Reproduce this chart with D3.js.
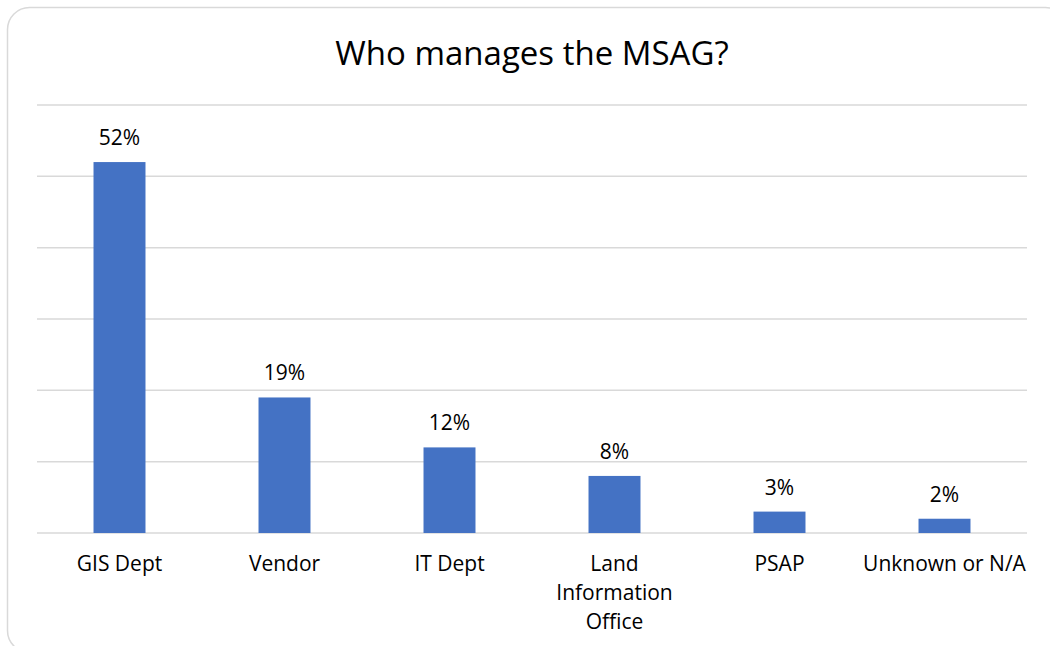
<!DOCTYPE html>
<html>
<head>
<meta charset="utf-8">
<script src="https://cdn.jsdelivr.net/npm/d3@7"></script>
<style>
  body { margin: 0; background: #fff; }
  svg { display: block; font-family: "Open Sans", sans-serif; }
</style>
</head>
<body>
<svg id="chart" width="1050" height="646"></svg>
<script>
const categories = ["GIS Dept", "Vendor", "IT Dept", "Land Information Office", "PSAP", "Unknown or N/A"];
const shares = [52, 19, 12, 8, 3, 2];
const yTicks = [0, 10, 20, 30, 40, 50, 60];

const svg = d3.select("#chart");
const margin = { top: 105, right: 23, bottom: 113, left: 37 };
const width = 1050 - margin.left - margin.right;
const height = 646 - margin.top - margin.bottom;

// card outline
svg.append("rect")
  .attr("x", 7.5).attr("y", 7.5)
  .attr("width", 1060).attr("height", 645)
  .attr("rx", 22)
  .attr("fill", "#fff")
  .attr("stroke", "#d9d9d9")
  .attr("stroke-width", 1.5);

svg.append("text")
  .attr("x", 532).attr("y", 65)
  .attr("text-anchor", "middle")
  .style("font-size", "33px")
  .attr("fill", "#000")
  .text("Who manages the MSAG?");

const g = svg.append("g").attr("transform", `translate(${margin.left},${margin.top})`);

const x = d3.scaleBand()
  .domain(categories)
  .range([0, width])
  .paddingInner(0.685)
  .paddingOuter(0.685 / 2);

const y = d3.scaleLinear().domain([0, 60]).range([height, 0]);

g.append("g")
  .selectAll("line")
  .data(yTicks)
  .join("line")
  .attr("x1", 0).attr("x2", width)
  .attr("y1", d => y(d)).attr("y2", d => y(d))
  .attr("stroke", "#d9d9d9")
  .attr("stroke-width", 1.5);

g.selectAll("rect.bar")
  .data(shares)
  .join("rect")
  .attr("class", "bar")
  .attr("x", (d, i) => x(categories[i]))
  .attr("y", d => y(d))
  .attr("width", x.bandwidth())
  .attr("height", d => y(0) - y(d))
  .attr("fill", "#4472C4");

g.selectAll("text.val")
  .data(shares)
  .join("text")
  .attr("class", "val")
  .attr("x", (d, i) => x(categories[i]) + x.bandwidth() / 2)
  .attr("y", d => y(d) - 17)
  .attr("text-anchor", "middle")
  .style("font-size", "21px")
  .attr("fill", "#000")
  .text(d => d + "%");

// category labels, wrapped like the original
const xAxis = d3.axisBottom(x).tickSize(0).tickPadding(0);
const axisG = g.append("g")
  .attr("transform", `translate(0,${height})`)
  .call(xAxis);
axisG.select(".domain").remove();
axisG.selectAll("text")
  .style("font-size", "21px")
  .style("font-family", "Open Sans, sans-serif")
  .attr("fill", "#000")
  .attr("dy", null)
  .attr("y", 38)
  .each(function(d) {
    const t = d3.select(this);
    const words = d === "Land Information Office" ? ["Land", "Information", "Office"] : [d];
    t.text(null);
    words.forEach((w, i) => {
      t.append("tspan").attr("x", 0).attr("y", 38 + i * 29).text(w);
    });
  });
</script>
</body>
</html>
